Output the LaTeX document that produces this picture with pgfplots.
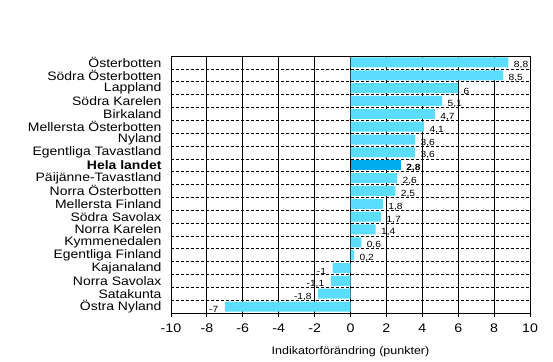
\documentclass[border=0pt]{standalone}
\usepackage{pgfplots}
\pgfplotsset{compat=1.18}
\usepackage{fontspec}
\setmainfont{Liberation Sans}[FakeStretch=1.14]
\definecolor{barc}{RGB}{91,221,255}
\definecolor{helac}{RGB}{0,172,236}
\begin{document}
\begin{tikzpicture}
\useasboundingbox (-171bp,-49bp) rectangle (382bp,313bp);
\begin{axis}[at={(0,0)}, anchor=south west,
  width=359bp, height=257bp, scale only axis,
  xmin=-10, xmax=10, ymin=-0.5, ymax=19.5, y dir=reverse,
  xtick={-10,-8,...,10},
  ytick={0,...,19},
  yticklabels={Österbotten,Södra Österbotten,Lappland,Södra Karelen,Birkaland,Mellersta Österbotten,Nyland,Egentliga Tavastland,\textbf{Hela landet},Päijänne-Tavastland,Norra Österbotten,Mellersta Finland,Södra Savolax,Norra Karelen,Kymmenedalen,Egentliga Finland,Kajanaland,Norra Savolax,Satakunta,Östra Nyland},
  minor ytick={0.5,1.5,...,18.5},
  yminorgrids=true, xmajorgrids=true,
  minor grid style={black, dash pattern=on 3bp off 2bp, line width=0.6bp},
  major grid style={black, line width=0.8bp},
  axis line style={black, line width=0.8bp},
  ytick style={draw=none}, minor tick length=0pt,
  xtick style={black, line width=0.8bp},
  tick align=outside, major tick length=4bp,
  tick pos=left,
  /pgf/number format/assume math mode=true,
  yticklabel style={font=\fontsize{12.3}{12}\selectfont, xshift=-2bp, inner ysep=0pt},
  xticklabel style={font=\fontsize{12.5}{13}\selectfont, yshift=-3bp},
  xlabel={Indikatorförändring (punkter)},
  xlabel style={font=\fontsize{11}{12}\selectfont, yshift=-7bp},
  /pgf/number format/use comma,
  xbar, bar width=10bp, bar shift=0pt,
  nodes near coords, point meta=x,
  nodes near coords style={font=\fontsize{9}{10}\selectfont, /pgf/number format/assume math mode=true},
]
\addplot[fill=barc, draw=none, nodes near coords style={anchor=west, xshift=2bp, yshift=-3bp}] coordinates {
(8.8,0) (8.5,1) (6,2) (5.1,3) (4.7,4) (4.1,5) (3.6,6) (3.6,7)
(2.6,9) (2.5,10) (1.8,11) (1.7,12) (1.4,13) (0.6,14) (0.2,15)};
\addplot[fill=helac, draw=none, nodes near coords style={anchor=west, xshift=2bp, yshift=-3bp, font=\fontsize{9}{10}\selectfont\bfseries}] coordinates {
(2.8,8)};
\addplot[fill=barc, draw=none, nodes near coords style={anchor=east, xshift=-3bp, yshift=-3bp}] coordinates {
(-1,16) (-1.1,17) (-1.8,18) (-7,19)};
\end{axis}
\end{tikzpicture}
\end{document}
